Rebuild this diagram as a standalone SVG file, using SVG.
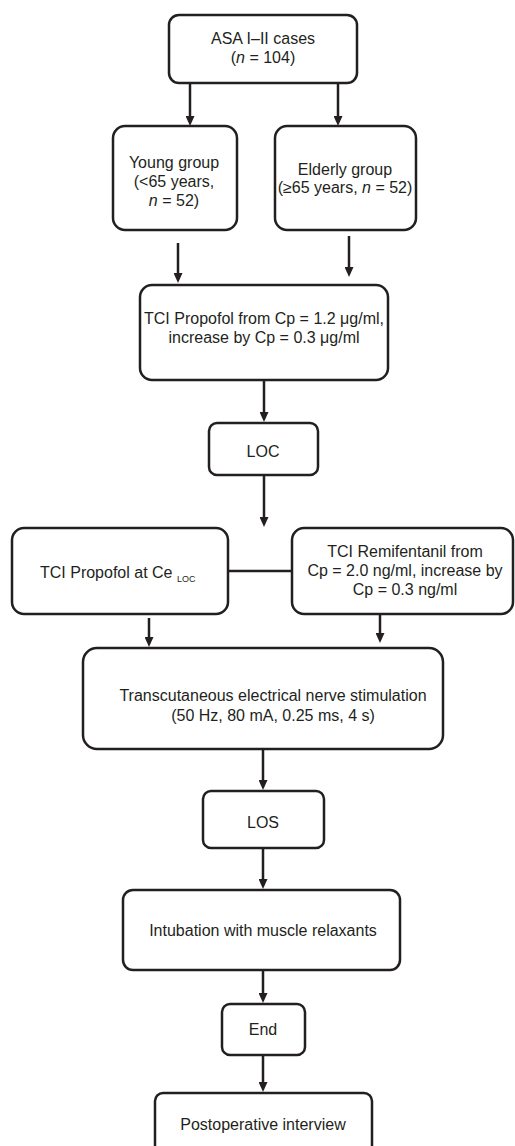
<svg xmlns="http://www.w3.org/2000/svg" width="515" height="1146" viewBox="0 0 515 1146">
<defs>
<style>
.box{fill:#ffffff;stroke:#231f20;stroke-width:2.5}
.ln{fill:none;stroke:#231f20;stroke-width:2.5}
.t{font-family:"Liberation Sans",Arial,sans-serif;font-size:16px;fill:#231f20;text-anchor:middle}
.it{font-style:italic}
</style>
<marker id="ah" viewBox="0 0 10 9" markerWidth="10" markerHeight="9" markerUnits="userSpaceOnUse" refX="4" refY="4.5" orient="auto">
<path d="M0,0 L10,4.5 L0,9 z" fill="#231f20"/>
</marker>
</defs>
<rect width="515" height="1146" fill="#ffffff"/>
<g id="connectors">
<line class="ln" x1="190" y1="83" x2="190" y2="120" marker-end="url(#ah)"/>
<line class="ln" x1="338" y1="83" x2="338" y2="120" marker-end="url(#ah)"/>
<line class="ln" x1="178" y1="243" x2="178" y2="277" marker-end="url(#ah)"/>
<line class="ln" x1="349" y1="236" x2="349" y2="271" marker-end="url(#ah)"/>
<line class="ln" x1="264" y1="380" x2="264" y2="416" marker-end="url(#ah)"/>
<line class="ln" x1="264" y1="475" x2="264" y2="521" marker-end="url(#ah)"/>
<line class="ln" x1="228" y1="571" x2="292" y2="571"/>
<line class="ln" x1="149" y1="618" x2="149" y2="641" marker-end="url(#ah)"/>
<line class="ln" x1="380" y1="614" x2="380" y2="637" marker-end="url(#ah)"/>
<line class="ln" x1="263" y1="749" x2="263" y2="784" marker-end="url(#ah)"/>
<line class="ln" x1="263" y1="848" x2="263" y2="883" marker-end="url(#ah)"/>
<line class="ln" x1="263" y1="970" x2="263" y2="997" marker-end="url(#ah)"/>
<line class="ln" x1="263" y1="1055" x2="263" y2="1086" marker-end="url(#ah)"/>
</g>
<g id="n-asa">
<rect class="box" x="169" y="15" width="188" height="68" rx="10"/>
<text class="t" x="263" y="44">ASA I–II cases</text>
<text class="t" x="263" y="63">(<tspan class="it">n</tspan> = 104)</text>
</g>
<g id="n-young">
<rect class="box" x="113" y="126" width="124" height="104" rx="12"/>
<text class="t" x="174" y="168">Young group</text>
<text class="t" x="174" y="187">(&lt;65 years,</text>
<text class="t" x="174" y="206"><tspan class="it">n</tspan> = 52)</text>
</g>
<g id="n-elderly">
<rect class="box" x="275" y="126" width="141" height="104" rx="12"/>
<text class="t" x="345" y="175">Elderly group</text>
<text class="t" x="345" y="193">(≥65 years, <tspan class="it">n</tspan> = 52)</text>
</g>
<g id="n-tci-propofol">
<rect class="box" x="140" y="285" width="248" height="95" rx="12"/>
<text class="t" x="264" y="324">TCI Propofol from Cp = 1.2 μg/ml,</text>
<text class="t" x="264" y="343">increase by Cp = 0.3 μg/ml</text>
</g>
<g id="n-loc">
<rect class="box" x="209" y="423" width="109" height="52" rx="8"/>
<text class="t" x="263" y="457">LOC</text>
</g>
<g id="n-propofol-ce">
<rect class="box" x="12" y="528" width="216" height="86" rx="12"/>
<text class="t" x="40" y="578" style="text-anchor:start">TCI Propofol at Ce <tspan font-size="9" dy="4">LOC</tspan></text>
</g>
<g id="n-remifentanil">
<rect class="box" x="292" y="528" width="221" height="86" rx="12"/>
<text class="t" x="405" y="557">TCI Remifentanil from</text>
<text class="t" x="405" y="576">Cp = 2.0 ng/ml, increase by</text>
<text class="t" x="405" y="595">Cp = 0.3 ng/ml</text>
</g>
<g id="n-tens">
<rect class="box" x="83" y="648" width="360" height="101" rx="14"/>
<text class="t" x="273" y="701">Transcutaneous electrical nerve stimulation</text>
<text class="t" x="273" y="721">(50 Hz, 80 mA, 0.25 ms, 4 s)</text>
</g>
<g id="n-los">
<rect class="box" x="203" y="791" width="121" height="57" rx="8"/>
<text class="t" x="263" y="828">LOS</text>
</g>
<g id="n-intubation">
<rect class="box" x="123" y="890" width="277" height="80" rx="10"/>
<text class="t" x="263" y="936">Intubation with muscle relaxants</text>
</g>
<g id="n-end">
<rect class="box" x="222" y="1004" width="83" height="51" rx="8"/>
<text class="t" x="263" y="1035">End</text>
</g>
<g id="n-interview">
<rect class="box" x="155" y="1093" width="217" height="62" rx="8"/>
<text class="t" x="263" y="1130">Postoperative interview</text>
</g>
</svg>
